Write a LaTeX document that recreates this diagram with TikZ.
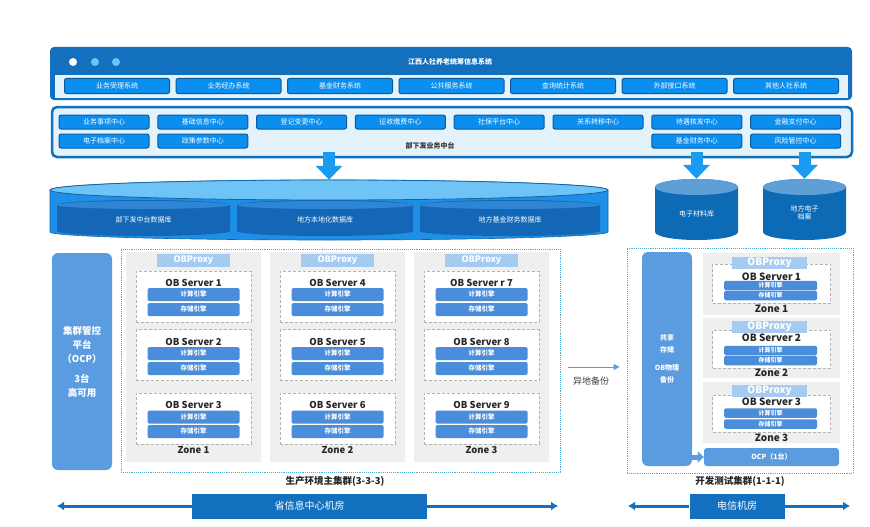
\documentclass[tikz,border=0pt]{standalone}
\usepackage{fontspec}
\setmainfont{Noto Sans CJK SC}
\usetikzlibrary{arrows.meta}

\definecolor{darkblue}{HTML}{1370BF}
\definecolor{btnblue}{HTML}{0A8EF0}
\definecolor{btnline}{HTML}{0B5AA0}
\definecolor{paleblue}{HTML}{E4F2FC}
\definecolor{arrowblue}{HTML}{1A9AF0}
\definecolor{dbblue}{HTML}{1E8FE6}
\definecolor{dbtop}{HTML}{6EC3F7}
\definecolor{dbinner}{HTML}{1467B6}
\definecolor{dbinnertop}{HTML}{2F86D4}
\definecolor{cylblue}{HTML}{0D6AB5}
\definecolor{cyltop}{HTML}{5E9FD8}
\definecolor{midblue}{HTML}{5B9BE0}
\definecolor{zonegray}{HTML}{EFEFEF}
\definecolor{proxyblue}{HTML}{A6CBF2}
\definecolor{barblue}{HTML}{4A8DDB}
\definecolor{frameblue}{HTML}{4AB0D8}

\tikzset{
  sysbtn/.style={draw=btnline, line width=1pt, fill=btnblue, rounded corners=2pt, minimum width=105pt, minimum height=15pt, inner sep=0pt, text=white, font=\fontsize{7}{7}\selectfont},
  ctrbtn/.style={sysbtn, minimum width=90pt, minimum height=14pt},
  zone/.style={fill=zonegray, inner sep=0pt},
  proxy/.style={fill=proxyblue, text=white, font=\bfseries\fontsize{9}{10}\selectfont, minimum width=73pt, minimum height=13pt, inner sep=0pt},
  server/.style={draw=gray!60, densely dashed, line width=0.4pt, fill=white, minimum width=115pt, minimum height=51pt, inner sep=0pt},
  srvtitle/.style={font=\bfseries\fontsize{9.5}{10}\selectfont, inner sep=0pt, text=black!85},
  engine/.style={fill=barblue, rounded corners=1.5pt, text=white, font=\bfseries\fontsize{6.5}{7}\selectfont, minimum width=92pt, minimum height=13pt, inner sep=0pt},
  zonelabel/.style={font=\bfseries\fontsize{9.5}{10}\selectfont, inner sep=0pt, text=black!85},
  bigarrow/.style={draw=arrowblue, line width=12pt, -{Triangle[width=26pt,length=14pt]}},
  frame/.style={draw=frameblue, densely dotted, line width=0.9pt, inner sep=0pt},
  roomline/.style={draw=darkblue, line width=3pt, -{Latex[length=7pt,width=9pt]}},
  roombox/.style={fill=darkblue, text=white, font=\fontsize{10}{11}\selectfont, minimum height=25pt, inner sep=0pt},
  dblabel/.style={text=white, font=\fontsize{7}{8.5}\selectfont}
}

\begin{document}
\begin{tikzpicture}[x=1pt, y=-1pt]
  \useasboundingbox[fill=white] (0,0) rectangle (870,527);

  % Systems panel
  \node[fill=darkblue, rounded corners=4pt, minimum width=802pt, minimum height=53pt, inner sep=0pt] (sys) at (451,73.5) {};
  \node[fill=paleblue, minimum width=793pt, minimum height=23pt, inner sep=0pt] (sysbar) at (451.5,86.5) {};
  \node[circle, fill=white, minimum size=8pt, inner sep=0pt] (d1) at (73,62) {};
  \node[circle, fill=dbtop, minimum size=8pt, inner sep=0pt] (d2) at (95,62) {};
  \node[circle, fill=dbtop, minimum size=8pt, inner sep=0pt] (d3) at (116,62) {};
  \node[text=white, font=\bfseries\fontsize{7}{8}\selectfont] (systitle) at (450,62) {江西人社养老统筹信息系统};
  \node[sysbtn] (b1) at (117,86) {业务受理系统};
  \node[sysbtn] (b2) at (228.5,86) {业务经办系统};
  \node[sysbtn] (b3) at (340,86) {基金财务系统};
  \node[sysbtn] (b4) at (451.5,86) {公共服务系统};
  \node[sysbtn] (b5) at (563,86) {查询统计系统};
  \node[sysbtn] (b6) at (674.5,86) {外部接口系统};
  \node[sysbtn] (b7) at (786,86) {其他人社系统};

  % Middle platform
  \node[draw=darkblue, line width=2.5pt, fill=paleblue, rounded corners=5pt, minimum width=800pt, minimum height=50pt, inner sep=0pt] (mid) at (452,132) {};
  \node[ctrbtn] (c1) at (104,122) {业务事项中心};
  \node[ctrbtn] (c2) at (202.8,122) {基础信息中心};
  \node[ctrbtn] (c3) at (301.6,122) {登记变更中心};
  \node[ctrbtn] (c4) at (400.4,122) {征收缴费中心};
  \node[ctrbtn] (c5) at (499.2,122) {社保平台中心};
  \node[ctrbtn] (c6) at (598,122) {关系转移中心};
  \node[ctrbtn] (c7) at (696.8,122) {待遇核发中心};
  \node[ctrbtn] (c8) at (795.6,122) {金融支付中心};
  \node[ctrbtn] (c9) at (104,141) {电子档案中心};
  \node[ctrbtn] (c10) at (202.8,141) {政策参数中心};
  \node[ctrbtn] (c11) at (696.8,141) {基金财务中心};
  \node[ctrbtn] (c12) at (795.6,141) {风险管控中心};
  \node[text=black!80, font=\bfseries\fontsize{7}{7}\selectfont] (midlabel) at (430,146) {部下发业务中台};

  % Databases
  \fill[dbblue, draw=dbblue!70!black, line width=0.6pt] (50,190) -- (50,232) arc[start angle=180, end angle=360, x radius=279pt, y radius=8pt] -- (608,190) arc[start angle=0, end angle=180, x radius=279pt, y radius=10pt] -- cycle;
  \filldraw[fill=dbtop, draw=dbblue!70!black, line width=0.8pt] (329,190) ellipse[x radius=279pt, y radius=10pt];
  \fill[dbinner] (57,205) -- (57,231) arc[start angle=180, end angle=360, x radius=86.5pt, y radius=5pt] -- (230,205) arc[start angle=0, end angle=180, x radius=86.5pt, y radius=5pt] -- cycle;
  \fill[dbinnertop] (143.5,205) ellipse[x radius=86.5pt, y radius=4pt];
  \fill[dbinner] (237,205) -- (237,231) arc[start angle=180, end angle=360, x radius=88pt, y radius=5pt] -- (413,205) arc[start angle=0, end angle=180, x radius=88pt, y radius=5pt] -- cycle;
  \fill[dbinnertop] (325,205) ellipse[x radius=88pt, y radius=4pt];
  \fill[dbinner] (420,205) -- (420,231) arc[start angle=180, end angle=360, x radius=90pt, y radius=5pt] -- (600,205) arc[start angle=0, end angle=180, x radius=90pt, y radius=5pt] -- cycle;
  \fill[dbinnertop] (510,205) ellipse[x radius=90pt, y radius=4pt];
  \node[minimum width=558pt, minimum height=60pt, inner sep=0pt] (bigdb) at (329,210) {};
  \node[dblabel] (dbA) at (143.5,220) {部下发中台数据库};
  \node[dblabel] (dbB) at (325,220) {地方本地化数据库};
  \node[dblabel] (dbC) at (510,220) {地方基金财务数据库};

  \fill[cylblue] (655,187) -- (655,232) arc[start angle=180, end angle=360, x radius=41.5pt, y radius=8pt] -- (738,187) arc[start angle=0, end angle=180, x radius=41.5pt, y radius=8pt] -- cycle;
  \fill[cyltop] (696.5,187) ellipse[x radius=41.5pt, y radius=8pt];
  \fill[cylblue] (763,187) -- (763,232) arc[start angle=180, end angle=360, x radius=41.5pt, y radius=8pt] -- (846,187) arc[start angle=0, end angle=180, x radius=41.5pt, y radius=8pt] -- cycle;
  \fill[cyltop] (804.5,187) ellipse[x radius=41.5pt, y radius=8pt];
  \node[minimum width=83pt, minimum height=60pt, inner sep=0pt] (elec) at (696.5,209) {};
  \node[minimum width=83pt, minimum height=60pt, inner sep=0pt] (arch) at (804.5,209) {};
  \node[dblabel] (elecl) at (696.5,214) {电子材料库};
  \node[dblabel, align=center] (archl) at (804.5,213) {地方电子\\档案};

  % Arrows to databases
  \draw[bigarrow] ([yshift=6pt]mid.south -| bigdb.north) -- (bigdb.north);
  \draw[bigarrow] ([yshift=6pt]mid.south -| elec.north) -- (elec.north);
  \draw[bigarrow] ([yshift=6pt]mid.south -| arch.north) -- (arch.north);

  % Production cluster
  \node[fill=midblue, rounded corners=6pt, minimum width=60pt, minimum height=217pt, inner sep=0pt, text=white, align=center, font=\bfseries\fontsize{9.5}{14}\selectfont] (ocp) at (82,361.5) {集群管控\\平台\\（OCP）\\[6pt]3台\\高可用};
  \node[frame, minimum width=439pt, minimum height=223pt] (prod) at (340.5,360.5) {};

  \node[zone, minimum width=135pt, minimum height=210pt] (z1) at (193.5,357) {};
  \node[zone, minimum width=135pt, minimum height=210pt] (z2) at (337.5,357) {};
  \node[zone, minimum width=135pt, minimum height=210pt] (z3) at (481.5,357) {};
  \node[proxy] (p1) at (193.5,260.5) {OBProxy};
  \node[proxy] (p2) at (337.5,260.5) {OBProxy};
  \node[proxy] (p3) at (481.5,260.5) {OBProxy};

  \node[server] (s1) at (193.5,296.5) {};
  \node[srvtitle] (t1) at (193.5,283) {OB Server 1};
  \node[engine] (e1) at (193.5,294.5) {计算引擎};
  \node[engine] (f1) at (193.5,309.5) {存储引擎};
  \node[server] (s2) at (193.5,355) {};
  \node[srvtitle] (t2) at (193.5,342) {OB Server 2};
  \node[engine] (e2) at (193.5,353.5) {计算引擎};
  \node[engine] (f2) at (193.5,368.5) {存储引擎};
  \node[server] (s3) at (193.5,418.5) {};
  \node[srvtitle] (t3) at (193.5,405) {OB Server 3};
  \node[engine] (e3) at (193.5,417) {计算引擎};
  \node[engine] (f3) at (193.5,431.5) {存储引擎};

  \node[server] (s4) at (337.5,296.5) {};
  \node[srvtitle] (t4) at (337.5,283) {OB Server 4};
  \node[engine] (e4) at (337.5,294.5) {计算引擎};
  \node[engine] (f4) at (337.5,309.5) {存储引擎};
  \node[server] (s5) at (337.5,355) {};
  \node[srvtitle] (t5) at (337.5,342) {OB Server 5};
  \node[engine] (e5) at (337.5,353.5) {计算引擎};
  \node[engine] (f5) at (337.5,368.5) {存储引擎};
  \node[server] (s6) at (337.5,418.5) {};
  \node[srvtitle] (t6) at (337.5,405) {OB Server 6};
  \node[engine] (e6) at (337.5,417) {计算引擎};
  \node[engine] (f6) at (337.5,431.5) {存储引擎};

  \node[server] (s7) at (481.5,296.5) {};
  \node[srvtitle] (t7) at (481.5,283) {OB Server r 7};
  \node[engine] (e7) at (481.5,294.5) {计算引擎};
  \node[engine] (f7) at (481.5,309.5) {存储引擎};
  \node[server] (s8) at (481.5,355) {};
  \node[srvtitle] (t8) at (481.5,342) {OB Server 8};
  \node[engine] (e8) at (481.5,353.5) {计算引擎};
  \node[engine] (f8) at (481.5,368.5) {存储引擎};
  \node[server] (s9) at (481.5,418.5) {};
  \node[srvtitle] (t9) at (481.5,405) {OB Server 9};
  \node[engine] (e9) at (481.5,417) {计算引擎};
  \node[engine] (f9) at (481.5,431.5) {存储引擎};

  \node[zonelabel] (zl1) at (193.5,450) {Zone 1};
  \node[zonelabel] (zl2) at (337.5,450) {Zone 2};
  \node[zonelabel] (zl3) at (481.5,450) {Zone 3};

  % Test cluster
  \node[frame, minimum width=226pt, minimum height=225pt] (dev) at (740,360.5) {};
  \node[fill=midblue, rounded corners=6pt, minimum width=50pt, minimum height=214pt, inner sep=0pt, text=white, align=center, font=\bfseries\fontsize{7}{12}\selectfont] (share) at (667,359) {共享\\存储\\[6pt]OB物理\\备份};

  \node[zone, minimum width=137pt, minimum height=62pt] (rz1) at (771.5,284) {};
  \node[zone, minimum width=137pt, minimum height=60pt] (rz2) at (771.5,348) {};
  \node[zone, minimum width=137pt, minimum height=61pt] (rz3) at (771.5,412.5) {};

  \node[server, minimum width=118pt, minimum height=39pt] (rs1) at (771.5,283.5) {};
  \node[proxy, minimum width=75pt, minimum height=12pt, font=\bfseries\fontsize{10}{10}\selectfont] (rp1) at (769.5,263) {OBProxy};
  \node[srvtitle, font=\bfseries\fontsize{10}{10}\selectfont] (rt1) at (771.5,277) {OB Server 1};
  \node[engine, minimum width=93pt, minimum height=9.5pt, font=\bfseries\fontsize{6}{6}\selectfont] (re1) at (770.5,285.5) {计算引擎};
  \node[engine, minimum width=93pt, minimum height=9.5pt, font=\bfseries\fontsize{6}{6}\selectfont] (rf1) at (770.5,295.5) {存储引擎};
  \node[zonelabel, font=\bfseries\fontsize{10}{10}\selectfont] (rzl1) at (771.5,309) {Zone 1};

  \node[server, minimum width=118pt, minimum height=38pt] (rs2) at (771.5,349) {};
  \node[proxy, minimum width=75pt, minimum height=12pt, font=\bfseries\fontsize{10}{10}\selectfont] (rp2) at (769.5,326.5) {OBProxy};
  \node[srvtitle, font=\bfseries\fontsize{10}{10}\selectfont] (rt2) at (771.5,338) {OB Server 2};
  \node[engine, minimum width=93pt, minimum height=9.5pt, font=\bfseries\fontsize{6}{6}\selectfont] (re2) at (770.5,350.5) {计算引擎};
  \node[engine, minimum width=93pt, minimum height=9.5pt, font=\bfseries\fontsize{6}{6}\selectfont] (rf2) at (770.5,360.5) {存储引擎};
  \node[zonelabel, font=\bfseries\fontsize{10}{10}\selectfont] (rzl2) at (771.5,373) {Zone 2};

  \node[server, minimum width=118pt, minimum height=37pt] (rs3) at (771.5,413.5) {};
  \node[proxy, minimum width=75pt, minimum height=12pt, font=\bfseries\fontsize{10}{10}\selectfont] (rp3) at (769.5,391) {OBProxy};
  \node[srvtitle, font=\bfseries\fontsize{10}{10}\selectfont] (rt3) at (771.5,402) {OB Server 3};
  \node[engine, minimum width=93pt, minimum height=9.5pt, font=\bfseries\fontsize{6}{6}\selectfont] (re3) at (770.5,413) {计算引擎};
  \node[engine, minimum width=93pt, minimum height=9.5pt, font=\bfseries\fontsize{6}{6}\selectfont] (rf3) at (770.5,424) {存储引擎};
  \node[zonelabel, font=\bfseries\fontsize{10}{10}\selectfont] (rzl3) at (771.5,438) {Zone 3};

  \node[fill=midblue, rounded corners=3pt, minimum width=135pt, minimum height=18pt, inner sep=0pt, text=white, font=\bfseries\fontsize{7}{8}\selectfont] (ocp1) at (771.5,457) {OCP（1台）};
  \draw[draw=midblue, line width=5pt, -{Triangle[width=11pt,length=6pt]}] (share.east |- ocp1.west) -- (ocp1.west);

  % Backup link
  \draw[draw=midblue, line width=1pt, -{Triangle[width=6pt,length=6pt]}, shorten <=8pt, shorten >=7pt] ([yshift=-6.5pt]prod.east) -- ([yshift=-6.5pt]dev.west);
  \node[text=black!75, font=\fontsize{9}{10}\selectfont] (bk) at (591,381) {异地备份};

  % Cluster labels and rooms
  \node[font=\bfseries\fontsize{9.5}{10}\selectfont, text=black!85] (prodl) at (335,481) {生产环境主集群(3-3-3)};
  \node[font=\bfseries\fontsize{9.5}{10}\selectfont, text=black!85] (devl) at (740,481) {开发测试集群(1-1-1)};
  \node[roombox, minimum width=235pt] (room1) at (309.5,506) {省信息中心机房};
  \node[roombox, minimum width=95pt] (room2) at (737,506) {电信机房};
  \coordinate (pl) at (57,506);
  \coordinate (pr) at (558,506);
  \coordinate (ql) at (628,506);
  \coordinate (qr) at (850,506);
  \draw[roomline] (room1.west) -- (pl);
  \draw[roomline] (room1.east) -- (pr);
  \draw[roomline] (room2.west) -- (ql);
  \draw[roomline] (room2.east) -- (qr);
\end{tikzpicture}
\end{document}
